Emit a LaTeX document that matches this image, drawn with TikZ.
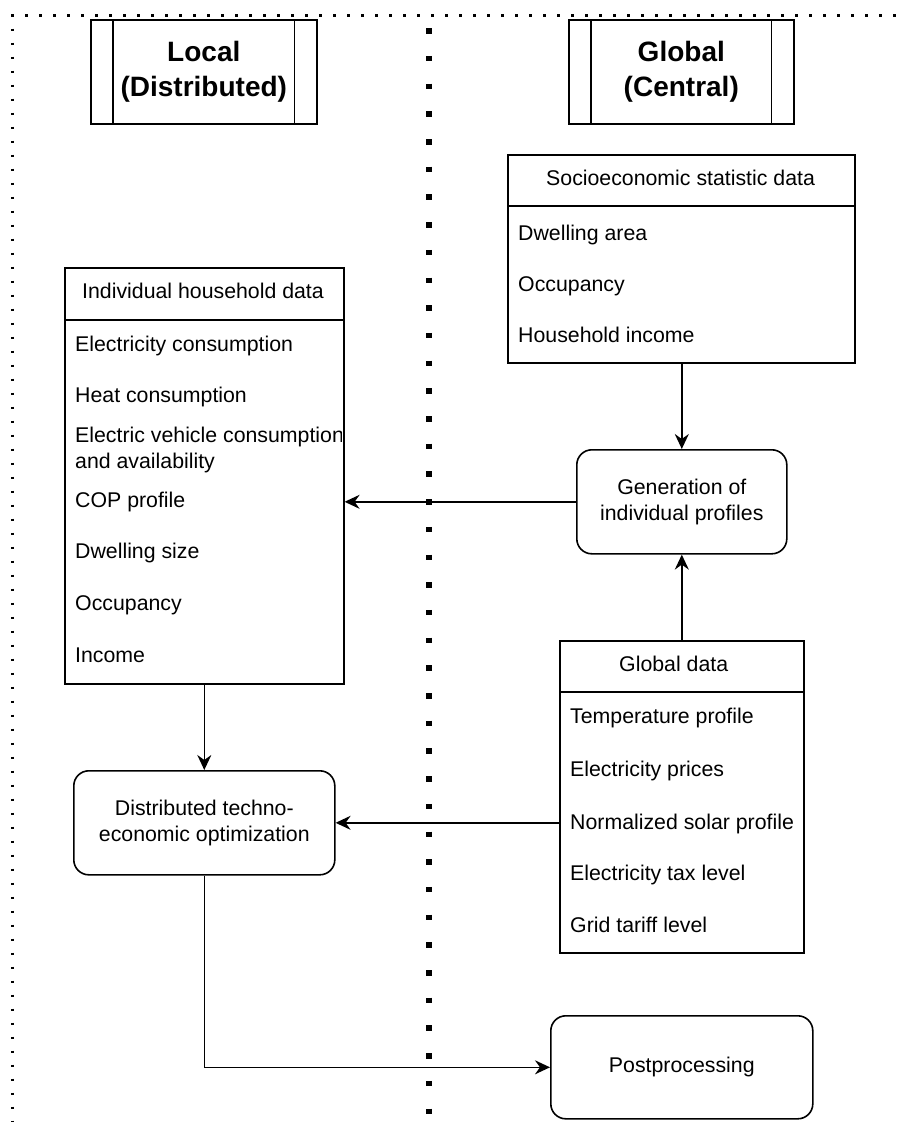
\documentclass[tikz,border=0pt]{standalone}
\usepackage{fontspec}
\setmainfont{Liberation Sans}
\usetikzlibrary{arrows.meta}
\begin{document}
\begin{tikzpicture}[x=1pt,y=-1pt,
  every node/.style={font=\fontsize{21.3}{26}\selectfont, inner sep=0pt},
  box/.style={draw, line width=1.6pt, fill=white, anchor=north west},
  rbox/.style={box, rounded corners=15pt, align=center},
  item/.style={anchor=west, align=left, text height=15pt, text depth=4.5pt},
  ml/.style={anchor=west, align=left},
  hdr/.style={font=\fontsize{28}{35}\selectfont\bfseries, align=center},
  sep/.style={line width=1.6pt},
  arr/.style={line width=1.6pt, -{Stealth[length=15pt,width=14pt,inset=5pt]}},
  thindots/.style={line width=2.5pt, dash pattern=on 2.5pt off 11.5pt},
  thickdots/.style={line width=5.5pt, dash pattern=on 5.5pt off 22.2pt},
  ]
\useasboundingbox (0,0) rectangle (907,1122);

% dotted separators
\coordinate (tl) at (11.3,15.7);
\coordinate (tr) at (907,15.7);
\coordinate (lt) at (12.5,14.5);
\coordinate (lb) at (12.5,1122);
\coordinate (mt) at (429,28.2);
\coordinate (mb) at (429,1122);
\draw[thindots] (tl) -- (tr);
\draw[thindots] (lt) -- (lb);
\draw[thickdots] (mt) -- (mb);

% headers
\node[box, hdr, minimum width=226pt, minimum height=104pt] (loc) at (90,19) {Local\\(Distributed)};
\draw[sep] ([xshift=23pt]loc.north west) -- ([xshift=23pt]loc.south west);
\draw[sep] ([xshift=-23pt]loc.north east) -- ([xshift=-23pt]loc.south east);
\node[box, hdr, minimum width=225pt, minimum height=104pt] (glo) at (568,19) {Global\\(Central)};
\draw[sep] ([xshift=23pt]glo.north west) -- ([xshift=23pt]glo.south west);
\draw[sep] ([xshift=-23pt]glo.north east) -- ([xshift=-23pt]glo.south east);

% socioeconomic statistic data
\node[box, minimum width=347pt, minimum height=208pt] (soc) at (507,154) {};
\draw[sep] ([yshift=-52pt]soc.north west) -- ([yshift=-52pt]soc.north east);
\node[item] (socT) at (546,180) {Socioeconomic statistic data};
\node[item] (soc1) at (518,235) {Dwelling area};
\node[item] (soc2) at (518,286) {Occupancy};
\node[item] (soc3) at (518,337) {Household income};

% individual household data
\node[box, minimum width=279pt, minimum height=416pt] (hh) at (64,267) {};
\draw[sep] ([yshift=-53pt]hh.north west) -- ([yshift=-53pt]hh.north east);
\node[item] (hhT) at (82,293) {Individual household data};
\node[item] (hh1) at (75,346) {Electricity consumption};
\node[item] (hh2) at (75,397) {Heat consumption};
\begin{scope}
  \clip ([xshift=-1pt]hh.north west) rectangle ([xshift=-3pt]hh.south east);
  \node[ml] (hh3) at (75,450) {Electric vehicle consumption\\and availability};
\end{scope}
\node[item] (hh4) at (75,502) {COP profile};
\node[item] (hh5) at (75,553) {Dwelling size};
\node[item] (hh6) at (75,605) {Occupancy};
\node[item] (hh7) at (75,657) {Income};

% generation of individual profiles
\node[rbox, minimum width=210pt, minimum height=104pt] (gen) at (576,449) {Generation of\\individual profiles};

% global data
\node[box, minimum width=244pt, minimum height=312pt] (gd) at (559,640) {};
\draw[sep] ([yshift=-52pt]gd.north west) -- ([yshift=-52pt]gd.north east);
\node[item] (gdT) at (619,666) {Global data};
\node[item] (gd1) at (570,718) {Temperature profile};
\node[item] (gd2) at (570,771) {Electricity prices};
\node[item] (gd3) at (570,824) {Normalized solar profile};
\node[item] (gd4) at (570,875) {Electricity tax level};
\node[item] (gd5) at (570,927) {Grid tariff level};

% optimization
\node[rbox, minimum width=261pt, minimum height=104pt] (opt) at (73,770) {Distributed techno-\\economic optimization};

% postprocessing
\node[rbox, minimum width=262pt, minimum height=103pt] (post) at (550,1015) {Postprocessing};

% connectors
\draw[arr] (gen.north |- soc.south) -- (gen.north);
\draw[arr] (gd.north) -- (gen.south);
\draw[arr] (gen.west) -- (gen.west -| hh.east);
\draw[arr] (hh.south) -- (opt.north);
\draw[arr] (gd.west |- opt.east) -- (opt.east);
\draw[arr] (opt.south) |- (post.west);
\end{tikzpicture}
\end{document}
